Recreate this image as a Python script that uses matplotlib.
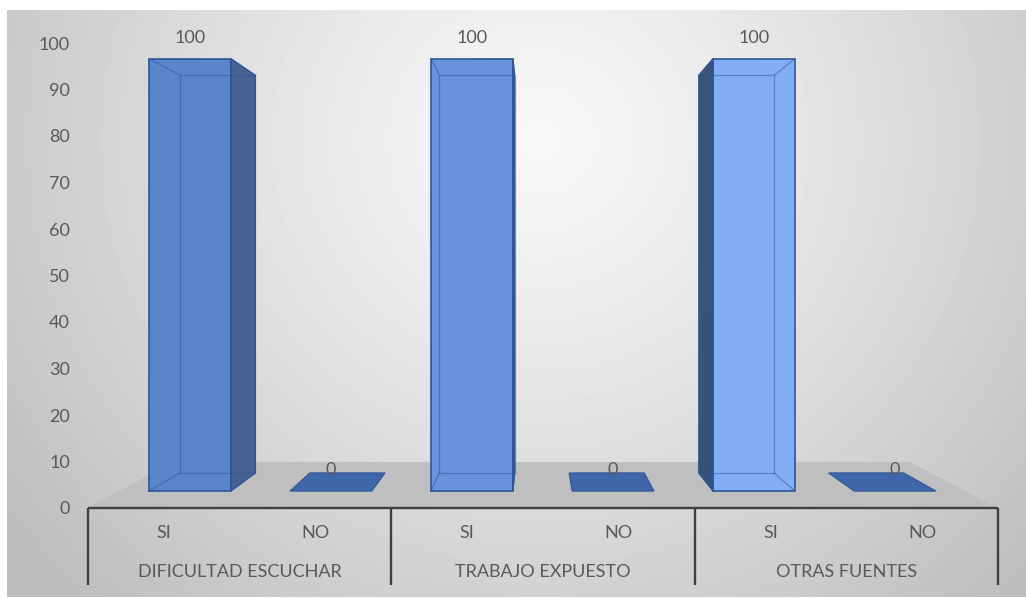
import numpy as np
import matplotlib
matplotlib.use('Agg')
import matplotlib.pyplot as plt
from matplotlib.patches import Polygon

plt.rcParams['font.family'] = ['Lato', 'DejaVu Sans']

# survey answers, percent per question
groups = ['DIFICULTAD ESCUCHAR', 'TRABAJO EXPUESTO', 'OTRAS FUENTES']
answers = ['SI', 'NO']
si_pct = [100, 100, 100]
no_pct = [0, 0, 0]
yticks = list(range(0, 101, 10))

# one column per (question, answer) pair
values = []
for s, n in zip(si_pct, no_pct):
    values += [s, n]
sub_labels = answers * len(groups)

# fake 3d: columns shrink towards a vanishing point as they go back
VP = (2.45, 52.0)
S_FRONT, S_BACK, S_FLOOR = 0.93, 0.855, 0.81
HALF = 0.29

front_cols = ['#5a85cb', '#6893dd', '#82aef6']
side_cols = ['#3f5c8f', '#3d5d9a', '#2f4b75']
flat_col = '#3e66ab'
edge_col = '#2f5597'
text_col = '#595959'
FS = 13


def proj(x, y, s):
    return (VP[0] + (x - VP[0]) * s, VP[1] + (y - VP[1]) * s)


fig = plt.figure(figsize=(10.26, 5.98), dpi=100)

# chart area background, radial grey gradient
bg = fig.add_axes([0, 0, 1, 1])
bg.set_xlim(0, 1026)
bg.set_ylim(598, 0)
bg.axis('off')
gx, gy = np.meshgrid(np.arange(7, 1026), np.arange(10, 597))
d = np.sqrt(((gx - 540) / 580.0) ** 2 + ((gy - 140) / 560.0) ** 2)
shade = (248 - 50 * np.clip(d, 0, 1.15) ** 1.2) / 255.0
bg.imshow(shade, cmap='gray', vmin=0, vmax=1, extent=(7, 1026, 597, 10),
          interpolation='bilinear', aspect='auto')

ax = fig.add_axes([88 / 1026, 90 / 598, 910 / 1026, 465 / 598])
ax.patch.set_alpha(0)
ax.set_xlim(-0.5, 5.5)
ax.set_ylim(0, 100)
for sp in ax.spines.values():
    sp.set_visible(False)
ax.set_xticks([])
ax.set_yticks(yticks)
ax.tick_params(axis='y', length=0, pad=13, labelsize=FS, labelcolor=text_col)

# floor
floor = [proj(-0.5, 0, 1), proj(5.5, 0, 1), proj(5.5, 0, S_FLOOR), proj(-0.5, 0, S_FLOOR)]
ax.add_patch(Polygon(floor, closed=True, fc='#bfbfbf', ec='none', zorder=1, clip_on=False))

for i, v in enumerate(values):
    xl, xr = i - HALF, i + HALF
    f = [proj(xl, 0, S_FRONT), proj(xr, 0, S_FRONT), proj(xr, v, S_FRONT), proj(xl, v, S_FRONT)]
    b = [proj(xl, 0, S_BACK), proj(xr, 0, S_BACK), proj(xr, v, S_BACK), proj(xl, v, S_BACK)]
    g = i // 2
    if v == 0:
        top = [f[3], f[2], b[2], b[3]]
        ax.add_patch(Polygon(top, closed=True, fc=flat_col, ec=edge_col, lw=0.8,
                             zorder=3, clip_on=False))
    else:
        ax.add_patch(Polygon(f, closed=True, fc=front_cols[g], ec='none', zorder=3, clip_on=False))
        if f[1][0] < VP[0]:
            side = [f[1], b[1], b[2], f[2]]
        else:
            side = [f[0], b[0], b[3], f[3]]
        ax.add_patch(Polygon(side, closed=True, fc=side_cols[g], ec=edge_col, lw=1.0,
                             alpha=0.95, zorder=3, clip_on=False))
        # back edges seen through the column
        bx = [p[0] for p in b] + [b[0][0]]
        by = [p[1] for p in b] + [b[0][1]]
        ax.plot(bx, by, color=edge_col, lw=0.9, alpha=0.5, zorder=4, clip_on=False)
        for k in range(4):
            ax.plot([f[k][0], b[k][0]], [f[k][1], b[k][1]], color=edge_col, lw=0.9,
                    alpha=0.5, zorder=4, clip_on=False)
        fx = [p[0] for p in f] + [f[0][0]]
        fy = [p[1] for p in f] + [f[0][1]]
        ax.plot(fx, fy, color=edge_col, lw=1.2, zorder=5, clip_on=False)
    # value label above the front top edge
    cx = (f[2][0] + f[3][0]) / 2
    ax.annotate(f'{v}', xy=(cx, f[2][1]), xytext=(0, 15), textcoords='offset points',
                ha='center', va='center', fontsize=FS, color=text_col,
                zorder=6, annotation_clip=False)

# two-level category axis
ax.plot([-0.5, 5.5], [0, 0], color='#404040', lw=1.7, zorder=5, clip_on=False,
        solid_capstyle='butt')
ax.vlines([-0.5, 1.5, 3.5, 5.5], -16.6, 0, color='#404040', lw=1.7, zorder=5, clip_on=False)
for i, lab in enumerate(sub_labels):
    ax.text(i, -5.4, lab, ha='center', va='center', fontsize=FS, color=text_col)
for g, lab in enumerate(groups):
    ax.text(2 * g + 0.5, -13.8, lab, ha='center', va='center', fontsize=FS, color=text_col)

fig.savefig('out.png', dpi=100)
